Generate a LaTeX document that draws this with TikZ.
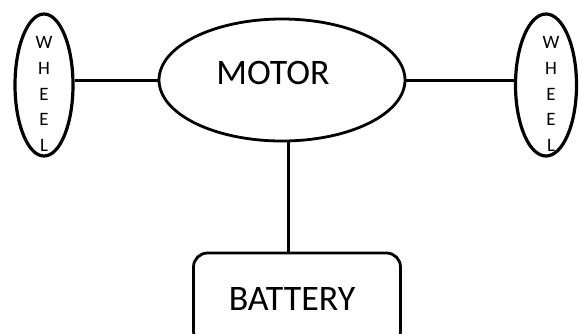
\documentclass[tikz,border=0pt]{standalone}
\usepackage{fontspec}
\setmainfont{Carlito}
\usetikzlibrary{shapes.geometric,positioning}

\begin{document}
\begin{tikzpicture}[
  x=1bp, y=-1bp,
  wheel/.style={ellipse, draw, line width=3.2bp, minimum width=58bp, minimum height=142bp, inner sep=0pt},
  part/.style={ellipse, draw, line width=2.8bp, minimum width=246bp, minimum height=122bp, inner sep=0pt},
  pack/.style={rectangle, draw, rounded corners=14bp, line width=2.8bp, minimum width=207bp, minimum height=92bp, inner sep=0pt},
  big/.style={font=\fontsize{36}{40}\selectfont},
  letters/.style={font=\fontsize{19}{26}\selectfont, align=center},
  wire/.style={line width=3bp},
]

\useasboundingbox (0,0) rectangle (579,333);

% === Motor (middle) ===
\node[part, label={[big, xshift=-9bp, yshift=7bp]center:MOTOR}] (motor) at (282,80) {};

% === Wheels (left and right) ===
\node[wheel, label={[letters, yshift=-9bp]center:{W\\H\\E\\E\\L}}] (wheelL) at (44,85) {};
\node[wheel, minimum width=61bp, label={[letters, xshift=5bp, yshift=-9bp]center:{W\\H\\E\\E\\L}}] (wheelR) at (546,85) {};

% === Battery (bottom) ===
\node[pack, label={[big, xshift=-5bp]center:BATTERY}] (battery) at (297,299) {};

% === Wires ===
\draw[wire] (motor.west) -- (motor.west -| wheelL.east);
\draw[wire] (motor.east) -- (motor.east -| wheelR.west);
\draw[wire] (motor.-84) -- (motor.-84 |- battery.north);

\end{tikzpicture}
\end{document}
